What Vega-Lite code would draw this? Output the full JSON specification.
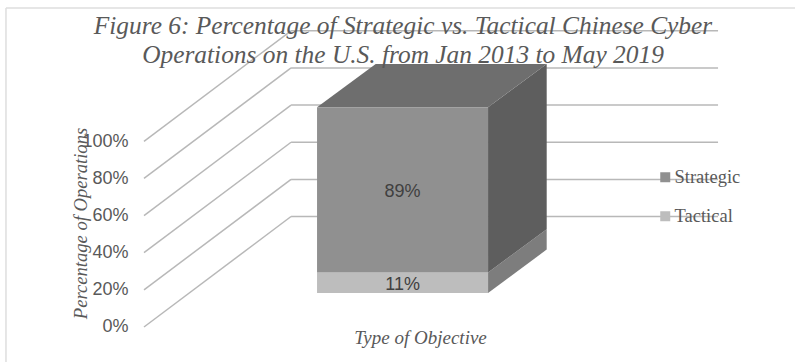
{
  "$schema": "https://vega.github.io/schema/vega-lite/v6.json",
  "width": 795,
  "height": 362,
  "padding": 0,
  "autosize": {"type": "none"},
  "background": "white",
  "title": {
    "text": ["Figure 6: Percentage of Strategic vs. Tactical Chinese Cyber", "Operations on the U.S. from Jan 2013 to May 2019"],
    "font": "Liberation Serif",
    "fontStyle": "italic",
    "fontWeight": "normal",
    "fontSize": 25.4,
    "lineHeight": 28.5,
    "color": "#595959",
    "anchor": "start",
    "frame": "group",
    "align": "center",
    "dx": 403,
    "dy": 88,
    "offset": 0,
    "baseline": "alphabetic"
  },
  "config": {"view": {"stroke": null}},
  "resolve": {"legend": {"fill": "independent", "color": "independent"}},
  "datasets": {
    "ticks": [{"tick": 0}, {"tick": 20}, {"tick": 40}, {"tick": 60}, {"tick": 80}, {"tick": 100}],
    "bars": [
      {"objective": "Tactical", "start": 0, "end": 11},
      {"objective": "Strategic", "start": 11, "end": 100}
    ]
  },
  "layer": [
    {
      "description": "Wall gridlines and the axes, in the oblique projection of the 3-D box",
      "data": {"name": "ticks"},
      "transform": [{"calculate": "datum.tick + 59.5", "as": "back"}],
      "mark": {"type": "rule", "stroke": "#b8b8b8", "strokeWidth": 1.5},
      "encoding": {
        "x": {
          "datum": -1.012,
          "type": "quantitative",
          "scale": {"domain": [-1.854, 2.795], "nice": false, "zero": false},
          "axis": {
            "title": "Type of Objective",
            "labels": false, "ticks": false, "domain": false, "grid": false,
            "titleFont": "Liberation Serif", "titleFontStyle": "italic", "titleFontWeight": "normal",
            "titleFontSize": 19, "titleColor": "#595959",
            "titleX": 420, "titleY": -19, "titleBaseline": "alphabetic"
          }
        },
        "x2": {"datum": -0.152},
        "y": {
          "field": "tick",
          "type": "quantitative",
          "scale": {"domain": [-18.85, 176.1], "nice": false, "zero": false},
          "axis": {
            "title": "Percentage of Operations",
            "values": [0, 20, 40, 60, 80, 100],
            "labelExpr": "datum.value + '%'",
            "ticks": false, "domain": false, "grid": false,
            "offset": -133, "labelPadding": 5,
            "labelFont": "Liberation Sans", "labelFontSize": 18, "labelColor": "#595959",
            "titleFont": "Liberation Serif", "titleFontStyle": "italic", "titleFontWeight": "normal",
            "titleFontSize": 18.6, "titleColor": "#595959",
            "titleX": -43, "titleY": 223
          }
        },
        "y2": {"field": "back"}
      }
    },
    {
      "data": {"name": "ticks"},
      "transform": [{"calculate": "datum.tick + 59.5", "as": "back"}],
      "mark": {"type": "rule", "stroke": "#b8b8b8", "strokeWidth": 1.5},
      "encoding": {
        "x": {"datum": -0.152, "type": "quantitative"},
        "x2": {"datum": 2.345},
        "y": {"field": "back", "type": "quantitative"}
      }
    },
    {
      "description": "Chart frame, top edge",
      "data": {"values": [{"edge": "top"}]},
      "mark": {"type": "rule", "stroke": "#dedede", "strokeWidth": 1.5},
      "encoding": {
        "x": {"datum": -1.819, "type": "quantitative"},
        "x2": {"datum": 2.795},
        "y": {"datum": 171.8, "type": "quantitative"}
      }
    },
    {
      "description": "Chart frame, left edge",
      "data": {"values": [{"edge": "left"}]},
      "mark": {"type": "rule", "stroke": "#dedede", "strokeWidth": 1.5},
      "encoding": {
        "x": {"datum": -1.819, "type": "quantitative"},
        "y": {"datum": 171.8, "type": "quantitative"},
        "y2": {"datum": -18.85}
      }
    },
    {
      "description": "Right-hand faces of the stacked segments",
      "data": {"name": "bars"},
      "transform": [
        {"calculate": "[0, 1]", "as": "d"},
        {"flatten": ["d"]},
        {"calculate": "1 + datum.d * 0.343", "as": "fx"},
        {"calculate": "datum.start + 18.3 + datum.d * 23.4", "as": "y0"},
        {"calculate": "datum.end + 18.3 + datum.d * 23.4", "as": "y1"}
      ],
      "mark": {"type": "area", "orient": "vertical", "opacity": 1},
      "encoding": {
        "x": {"field": "fx", "type": "quantitative"},
        "y": {"field": "y0", "type": "quantitative", "stack": null},
        "y2": {"field": "y1"},
        "detail": {"field": "objective"},
        "fill": {
          "field": "objective", "type": "nominal",
          "scale": {"domain": ["Strategic", "Tactical"], "range": ["#5e5e5e", "#7d7d7d"]},
          "legend": null
        }
      }
    },
    {
      "description": "Top face of the box",
      "data": {"name": "bars"},
      "transform": [
        {"filter": "datum.end === 100"},
        {"calculate": "[0, 1]", "as": "d"},
        {"flatten": ["d"]},
        {"calculate": "datum.d * 0.343", "as": "x0"},
        {"calculate": "1 + datum.d * 0.343", "as": "x1"},
        {"calculate": "datum.end + 18.3 + datum.d * 23.4", "as": "ty"}
      ],
      "mark": {"type": "area", "orient": "horizontal", "color": "#6e6e6e", "opacity": 1},
      "encoding": {
        "y": {"field": "ty", "type": "quantitative"},
        "x": {"field": "x0", "type": "quantitative", "stack": null},
        "x2": {"field": "x1"}
      }
    },
    {
      "description": "Front faces of the stacked segments, which also drive the legend",
      "data": {"name": "bars"},
      "transform": [
        {"calculate": "datum.start + 18.3", "as": "y0"},
        {"calculate": "datum.end + 18.3", "as": "y1"}
      ],
      "mark": {"type": "rect"},
      "encoding": {
        "x": {"datum": 0, "type": "quantitative"},
        "x2": {"datum": 1},
        "y": {"field": "y0", "type": "quantitative"},
        "y2": {"field": "y1"},
        "color": {
          "field": "objective", "type": "nominal",
          "scale": {"domain": ["Strategic", "Tactical"], "range": ["#909090", "#bdbdbd"]},
          "legend": {
            "title": null,
            "orient": "none", "legendX": 656, "legendY": 168,
            "symbolType": "square", "symbolSize": 100, "symbolStrokeWidth": 0,
            "symbolOpacity": 1,
            "rowPadding": 20, "labelOffset": 0,
            "labelFont": "Liberation Serif", "labelFontSize": 18.5, "labelColor": "#595959"
          }
        }
      }
    },
    {
      "description": "Value labels centred on each front face",
      "data": {"name": "bars"},
      "transform": [
        {"calculate": "(datum.start + datum.end) / 2 + 18.3", "as": "mid"},
        {"calculate": "(datum.end - datum.start) + '%'", "as": "label"}
      ],
      "mark": {"type": "text", "font": "Liberation Sans", "fontSize": 18, "color": "#404040", "align": "center", "baseline": "middle", "dy": 2},
      "encoding": {
        "x": {"datum": 0.5, "type": "quantitative"},
        "y": {"field": "mid", "type": "quantitative"},
        "text": {"field": "label"}
      }
    }
  ]
}
